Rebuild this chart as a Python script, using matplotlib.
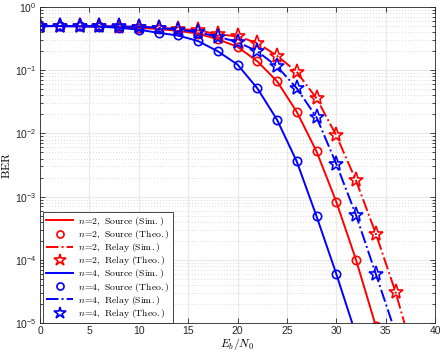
import numpy as np
import matplotlib
matplotlib.use('Agg')
import matplotlib.pyplot as plt
from matplotlib.ticker import FuncFormatter

plt.rcParams['mathtext.fontset'] = 'cm'
plt.rcParams['font.family'] = ['Liberation Sans', 'DejaVu Sans']

# Eb/N0 grid (dB)
snr = np.arange(0, 40, 2)

# BER values (NaN = not drawn / off scale)
ber_n2_src = [0.5, 0.5, 0.497, 0.493, 0.485, 0.47, 0.45, 0.42, 0.38, 0.31,
              0.235, 0.139, 0.067, 0.022, 5.2e-3, 8.3e-4, 1.0e-4, 9e-6, 1e-6, np.nan]
ber_n2_rel = [0.5, 0.5, 0.5, 0.497, 0.49, 0.48, 0.47, 0.45, 0.43, 0.37,
              0.345, 0.27, 0.17, 0.094, 0.036, 9.3e-3, 1.8e-3, 2.6e-4, 3.1e-5, 2.5e-6]
ber_n4_src = [0.5, 0.5, 0.495, 0.49, 0.47, 0.44, 0.39, 0.355, 0.29, 0.20,
              0.123, 0.052, 0.0165, 3.6e-3, 4.9e-4, 6.0e-5, 6.5e-6, np.nan, np.nan, np.nan]
ber_n4_rel = [0.5, 0.5, 0.5, 0.497, 0.493, 0.49, 0.47, 0.44, 0.40, 0.34,
              0.28, 0.20, 0.115, 0.052, 0.018, 3.3e-3, 5.1e-4, 6.0e-5, 7e-6, np.nan]

series = [
    ('red', ber_n2_src, ber_n2_rel, 2),
    ('blue', ber_n4_src, ber_n4_rel, 4),
]

fig = plt.figure(figsize=(4.43, 3.54), dpi=100)
ax = fig.add_axes([0.0903, 0.0876, 0.8917, 0.8924])

for color, src, rel, n in series:
    src = np.array(src)
    rel = np.array(rel)
    ax.semilogy(snr, src, '-', color=color, linewidth=1.4,
                label=r'$n\!=\!%d,\ \mathrm{Source\ (Sim.)}$' % n)
    ax.semilogy(snr, src, 'o', color=color, markerfacecolor='none', markersize=6,
                markeredgewidth=1.2, linestyle='none',
                label=r'$n\!=\!%d,\ \mathrm{Source\ (Theo.)}$' % n)
    ax.semilogy(snr, rel, '-.', color=color, linewidth=1.4,
                label=r'$n\!=\!%d,\ \mathrm{Relay\ (Sim.)}$' % n)
    ax.semilogy(snr, rel, '*', color=color, markerfacecolor='none', markersize=11,
                markeredgewidth=1.2, linestyle='none',
                label=r'$n\!=\!%d,\ \mathrm{Relay\ (Theo.)}$' % n)

ax.set_xlim(0, 40)
ax.set_ylim(1e-5, 1)
ax.set_xticks(np.arange(0, 41, 5))
ax.yaxis.set_major_formatter(FuncFormatter(lambda v, p: r'$\mathregular{10^{%d}}$' % round(np.log10(v))))
ax.tick_params(which='both', direction='in', top=True, right=True, labelsize=7.5,
               colors='#262626', width=0.6, pad=2.5)
ax.tick_params(which='major', length=3.5)
ax.tick_params(which='minor', length=2)
ax.grid(True, which='major', color='#e8e8e8', linewidth=0.8)
ax.grid(True, which='minor', axis='y', color='#d0d0d0', linestyle=(0, (1, 2.5)), linewidth=0.6)
ax.set_axisbelow(True)
for sp in ax.spines.values():
    sp.set_color('#262626')
    sp.set_linewidth(0.6)

ax.set_xlabel(r'$E_b/N_0$', fontsize=8.5, labelpad=0)
ax.set_ylabel(r'$\mathrm{BER}$', fontsize=8.5, labelpad=1)

leg = ax.legend(loc='lower left', bbox_to_anchor=(0.008, 0.0), fontsize=7, frameon=True,
                fancybox=False, edgecolor='#262626', framealpha=1, borderaxespad=0,
                handlelength=2.8, labelspacing=0.02, borderpad=0.3, handletextpad=0.5,
                markerscale=0.85)
leg.get_frame().set_linewidth(0.6)

fig.savefig('out.png', dpi=100)
